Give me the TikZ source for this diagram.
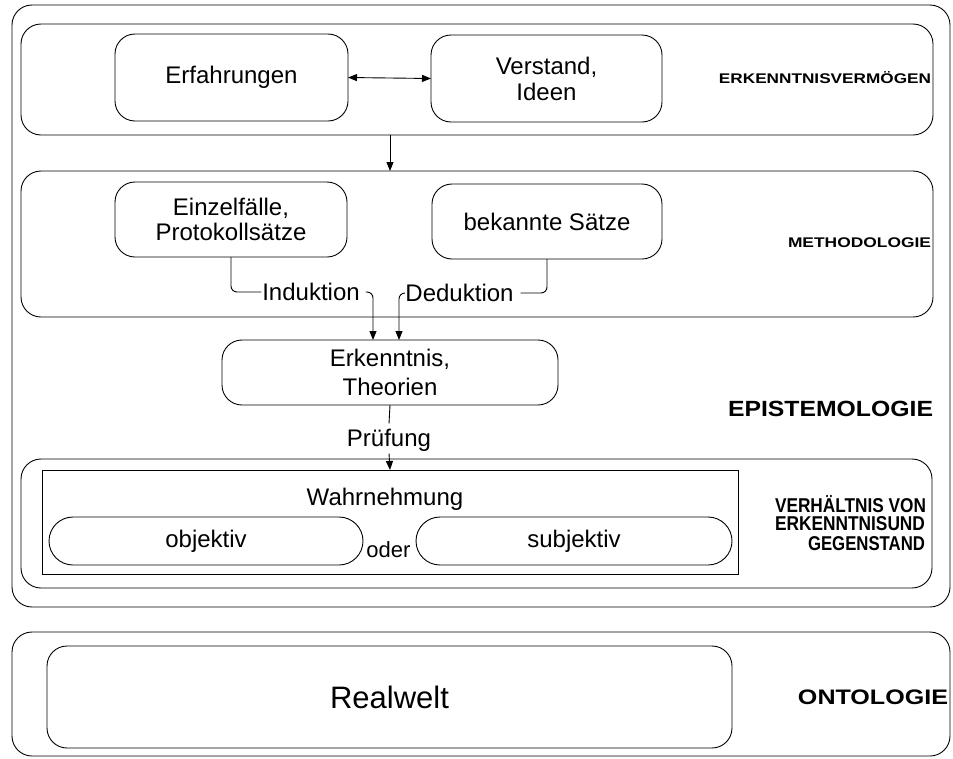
\documentclass[tikz,border=0pt]{standalone}
\usepackage{fontspec}
\usepackage{graphicx}
\setmainfont{Liberation Sans}
\usetikzlibrary{arrows.meta}
\newcommand{\sqlab}[3]{\resizebox{#1}{\height}{\fontsize{#2}{#2}\selectfont\bfseries #3}}
\begin{document}
\begin{tikzpicture}[x=1pt,y=-1pt,line width=0.9pt,
 box/.style={draw, rounded corners=20pt, inner sep=0pt, outer sep=0pt, align=center, font=\fontsize{24}{28}\selectfont},
 sq/.style={draw, inner sep=0pt, outer sep=0pt},
 pill/.style={draw, rounded corners=24pt, inner sep=0pt, outer sep=0pt, font=\fontsize{24}{28}\selectfont},
 txt/.style={inner sep=0pt, outer sep=0pt, font=\fontsize{24}{28}\selectfont, text height=17pt, text depth=0pt},
 lab/.style={inner sep=0pt, outer sep=0pt, anchor=east},
 arr/.style={-{Triangle[length=9pt,width=7pt]}},
 darr/.style={{Triangle[length=9pt,width=7pt]}-{Triangle[length=9pt,width=7pt]}}
]
\useasboundingbox (0,0) rectangle (953,758);

% Epistemologie frame
\node[box, minimum width=938pt, minimum height=602pt] (outer) at (481,306) {};
% Erkenntnisvermoegen
\node[box, minimum width=912pt, minimum height=111pt] (ev) at (477,79.5) {};
\node[box, minimum width=233pt, minimum height=87pt] (erf) at (231.5,77.5) {Erfahrungen};
\node[box, minimum width=231pt, minimum height=87pt, font=\fontsize{24}{26}\selectfont] (ver) at (546.5,78.5) {Verstand,\\Ideen};
\node[lab] (labev) at (931,78) {\sqlab{212pt}{14}{ERKENNTNISVERMÖGEN}};
% Methodologie
\node[box, minimum width=912pt, minimum height=146pt] (meth) at (477,244) {};
\node[box, minimum width=232pt, minimum height=75pt, font=\fontsize{24}{25}\selectfont] (einz) at (231,219.5) {Einzelfälle,\\Protokollsätze};
\node[box, minimum width=230pt, minimum height=75pt] (bek) at (547,221.5) {bekannte Sätze};
\node[lab] (labme) at (931,243) {\sqlab{143pt}{14}{METHODOLOGIE}};
\node[txt] (ind) at (311,292) {Induktion};
\node[txt] (ded) at (459.5,293) {Deduktion};
% Erkenntnis
\node[box, minimum width=336pt, minimum height=65pt, font=\fontsize{24}{29}\selectfont] (erk) at (390,372.5) {Erkenntnis,\\Theorien};
\node[txt] (pr) at (389,438) {Prüfung};
\node[lab] (labep) at (933,409) {\sqlab{205pt}{22}{EPISTEMOLOGIE}};
% Verhaeltnis
\node[box, minimum width=911pt, minimum height=129pt] (verh) at (476.5,523.5) {};
\node[sq, minimum width=696pt, minimum height=104pt] (wahr) at (390,522) {};
\node[txt] (wt) at (385,497) {Wahrnehmung};
\node[pill, minimum width=314pt, minimum height=48pt] (obj) at (206,541) {objektiv};
\node[pill, minimum width=316pt, minimum height=48pt] (subj) at (574,541) {subjektiv};
\node[txt, font=\fontsize{22}{26}\selectfont, text height=12pt] (oder) at (388.5,551) {oder};
\node[lab] (lv1) at (926,504) {\sqlab{151pt}{20}{VERHÄLTNIS VON}};
\node[lab] (lv2) at (925,524) {\sqlab{150pt}{20}{ERKENNTNISUND}};
\node[lab] (lv3) at (925,544) {\sqlab{117pt}{20}{GEGENSTAND}};
% Ontologie
\node[box, minimum width=938pt, minimum height=124pt] (onto) at (481,694) {};
\node[box, minimum width=685pt, minimum height=102pt, font=\fontsize{31}{34}\selectfont] (real) at (389.5,697) {Realwelt};
\node[lab] (labon) at (948,697) {\sqlab{150pt}{21}{ONTOLOGIE}};

% connectors
\draw[darr] (erf.east) -- (ver.west);
\draw[arr] (ev.south -| erk.north) -- (meth.north -| erk.north);
\draw[rounded corners=6pt] (einz.south) |- ([xshift=-1pt]ind.west);
\draw[arr, rounded corners=6pt] ([xshift=6pt]ind.east) -| ([xshift=-17pt]erk.north);
\draw[rounded corners=6pt] (bek.south) |- ([xshift=7pt]ded.east);
\draw[arr, rounded corners=6pt] ([xshift=-1pt]ded.west) -| ([xshift=9pt]erk.north);
\draw (erk.south) -- ([yshift=6pt]pr.north);
\draw[arr] ([yshift=-7pt]pr.south) -- (wahr.north);
\end{tikzpicture}
\end{document}
